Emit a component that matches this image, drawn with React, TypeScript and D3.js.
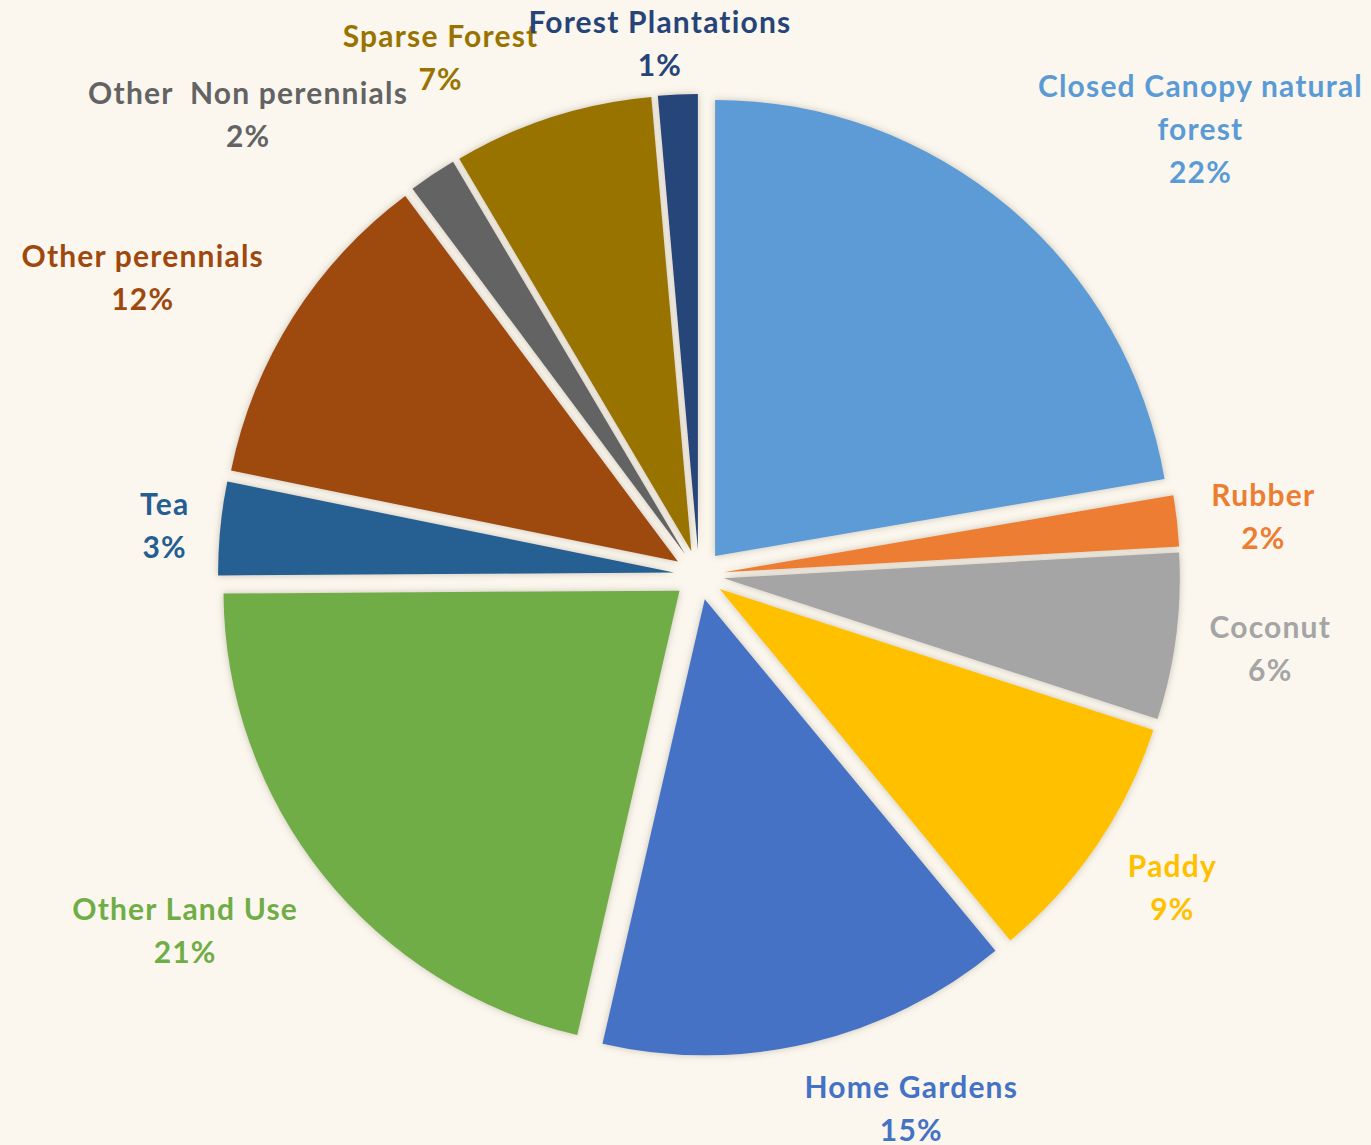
import React, { useEffect, useRef } from 'react';
import * as d3 from 'd3';

// land use share, clockwise from 12 o'clock
const categories = [
  'Closed Canopy natural\nforest',
  'Rubber',
  'Coconut',
  'Paddy',
  'Home Gardens',
  'Other Land Use',
  'Tea',
  'Other perennials',
  'Other  Non perennials',
  'Sparse Forest',
  'Forest Plantations',
];
const shares = [22.3, 1.8, 5.9, 9.0, 14.6, 21.3, 3.3, 11.6, 1.7, 7.1, 1.4];
const colors = [
  '#5B9BD5', '#ED7D31', '#A5A5A5', '#FFC000', '#4472C4', '#70AD47',
  '#255E91', '#9E480E', '#636363', '#997300', '#264478',
];

// label nudges from the default ring position (layout only)
const labelNudge: [number, number][] = [
  [134, -10], [-2, 6], [6, 0], [2, -8], [81, -21], [-69, -1],
  [33, 6], [-75, 8], [-135, 14], [-84, 25], [-14, 38],
];

const App = () => {
  const ref = useRef<SVGSVGElement>(null);

  useEffect(() => {
    const width = 1371;
    const height = 1145;
    const cx = 699;
    const cy = 575;
    const radius = 456;
    const explode = 25;
    const labelRadius = 570;
    const lineH = 43;

    const svg = d3.select(ref.current);
    svg.selectAll('*').remove();
    svg.attr('width', width).attr('height', height);

    const defs = svg.append('defs');
    const f = defs.append('filter').attr('id', 'shadow')
      .attr('x', '-20%').attr('y', '-20%').attr('width', '140%').attr('height', '140%');
    f.append('feDropShadow')
      .attr('dx', 0).attr('dy', 0)
      .attr('stdDeviation', 3.5)
      .attr('flood-color', '#6b5a40')
      .attr('flood-opacity', 0.35);

    svg.append('rect')
      .attr('width', width).attr('height', height)
      .attr('fill', '#FBF7EE');

    const data = shares.map((v, i) => ({ name: categories[i], value: v, color: colors[i] }));

    const pie = d3.pie<any>().value(d => d.value).sort(null);
    const arc = d3.arc<any>().innerRadius(0).outerRadius(radius);
    const arcs = pie(data);

    const g = svg.append('g').attr('transform', `translate(${cx},${cy})`);

    g.selectAll('path')
      .data(arcs)
      .enter()
      .append('path')
      .attr('d', arc)
      .attr('fill', d => d.data.color)
      .attr('filter', 'url(#shadow)')
      .attr('transform', d => {
        const mid = (d.startAngle + d.endAngle) / 2;
        return `translate(${explode * Math.sin(mid)},${-explode * Math.cos(mid)})`;
      });

    const labels = g.selectAll('g.lbl')
      .data(arcs)
      .enter()
      .append('g')
      .attr('class', 'lbl')
      .attr('transform', (d, i) => {
        const mid = (d.startAngle + d.endAngle) / 2;
        const x = labelRadius * Math.sin(mid) + labelNudge[i][0];
        const y = -labelRadius * Math.cos(mid) + labelNudge[i][1];
        return `translate(${x},${y})`;
      });

    labels.each(function (d) {
      const lines = [...d.data.name.split('\n'), `${Math.round(d.data.value)}%`];
      const t = d3.select(this).append('text')
        .attr('text-anchor', 'middle')
        .style('font-family', 'Lato, "Open Sans", sans-serif')
        .style('font-weight', 'bold')
        .style('font-size', '30px')
        .style('letter-spacing', '1.2px')
        .style('white-space', 'pre')
        .attr('fill', d.data.color);
      const top = -((lines.length - 1) * lineH) / 2;
      lines.forEach((ln, k) => {
        t.append('tspan')
          .attr('x', 0)
          .attr('y', top + k * lineH)
          .attr('dy', '0.36em')
          .text(ln);
      });
    });
  }, []);

  return (
    <svg ref={ref} style={{ position: 'absolute', left: 0, top: 0, display: 'block' }} />
  );
};

export default App;
